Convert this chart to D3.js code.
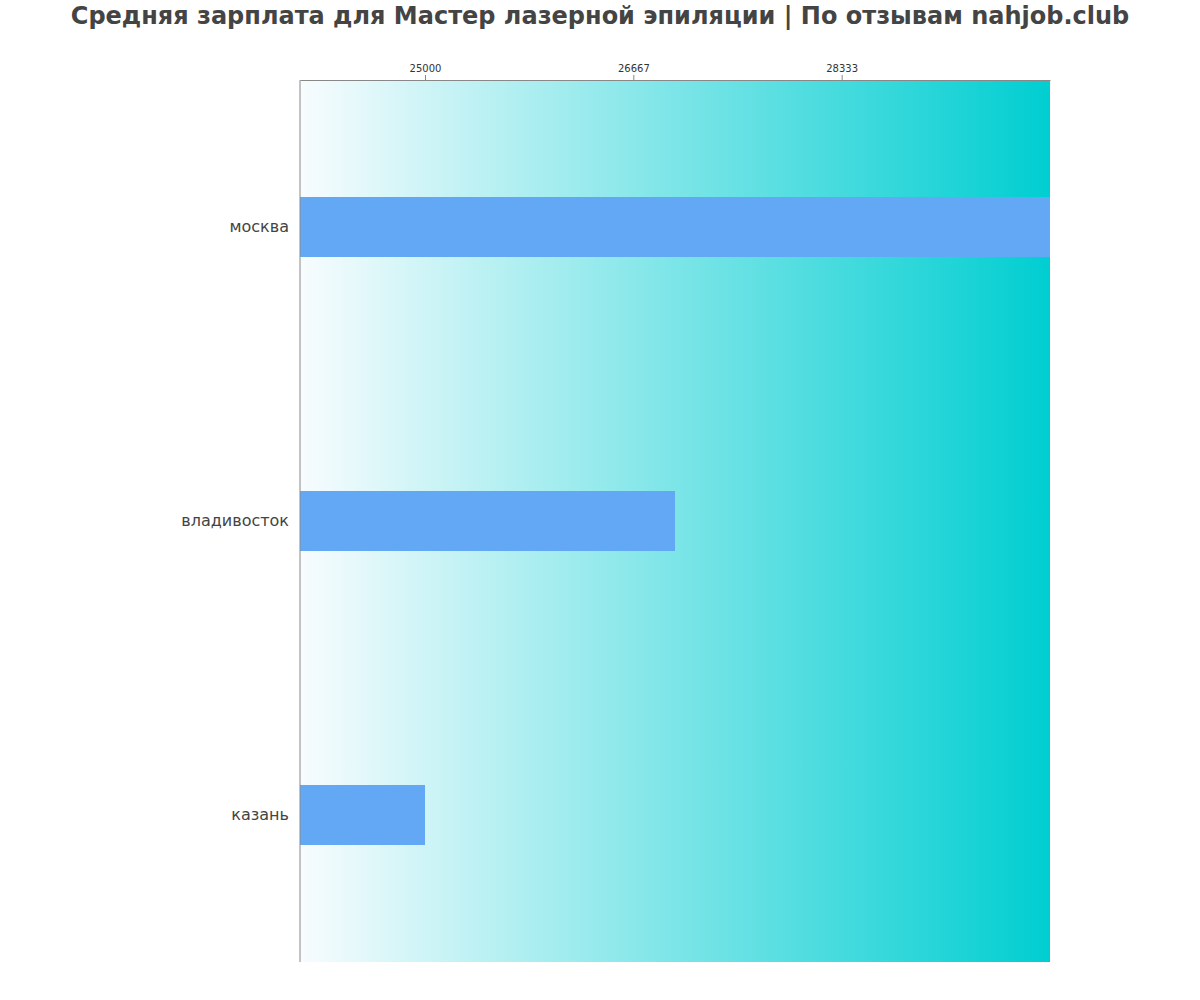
<!DOCTYPE html>
<html>
<head>
<meta charset="utf-8">
<script src="https://cdn.jsdelivr.net/npm/d3@7"></script>
<style>
  html, body { margin: 0; padding: 0; background: #fff; }
  svg { display: block; }
</style>
</head>
<body>
<svg id="chart" width="1200" height="1000"></svg>
<script>
const title = "Средняя зарплата для Мастер лазерной эпиляции | По отзывам nahjob.club";
const categories = ["москва", "владивосток", "казань"];
const salaries = [30000, 27000, 25000];
const tickValues = [25000, 26666.67, 28333.33];
const xDomain = [24000, 30000];

const svg = d3.select("#chart");
const margin = {left: 300, right: 150, top: 80, bottom: 38};
const W = 1200, H = 1000;
const innerW = W - margin.left - margin.right;
const innerH = H - margin.top - margin.bottom;

const defs = svg.append("defs");
const grad = defs.append("linearGradient").attr("id", "bg").attr("x1", "0%").attr("x2", "100%").attr("y1", "0%").attr("y2", "0%");
grad.append("stop").attr("offset", "0%").attr("stop-color", "#f8fcfe");
grad.append("stop").attr("offset", "100%").attr("stop-color", "#00ced1");

svg.append("text")
  .attr("x", W / 2).attr("y", 24)
  .attr("text-anchor", "middle")
  .attr("font-family", "DejaVu Sans")
  .attr("font-weight", "bold")
  .attr("font-size", 24)
  .attr("fill", "#444")
  .text(title);

const g = svg.append("g").attr("transform", `translate(${margin.left},${margin.top})`);

const x = d3.scaleLinear().domain(xDomain).range([0, innerW]);
const y = d3.scalePoint().domain(categories).range([0, innerH]).padding(0.5);

g.append("rect").attr("x", 0).attr("y", 0).attr("width", innerW).attr("height", innerH).attr("fill", "url(#bg)");

const barH = 60;
g.selectAll("rect.bar").data(categories).enter().append("rect")
  .attr("class", "bar")
  .attr("x", x(xDomain[0]))
  .attr("y", d => y(d) - barH / 2)
  .attr("width", (d, i) => x(salaries[i]) - x(xDomain[0]))
  .attr("height", barH)
  .attr("fill", "#62a8f4");

const xAxis = d3.axisTop(x).tickValues(tickValues).tickFormat(d => d3.format("d")(Math.round(d))).tickSize(5).tickSizeOuter(0);
const ax = g.append("g").call(xAxis);
ax.select(".domain").attr("stroke", "#888");
ax.selectAll(".tick line").attr("stroke", "#888");
ax.selectAll(".tick text").attr("font-family", "DejaVu Sans").attr("font-size", 10).attr("fill", "#333");

// left axis line
g.append("line").attr("x1", 0).attr("x2", 0).attr("y1", 0).attr("y2", innerH).attr("stroke", "#888");

g.selectAll("text.cat").data(categories).enter().append("text")
  .attr("class", "cat")
  .attr("x", -11)
  .attr("y", d => y(d))
  .attr("dy", "0.3em")
  .attr("text-anchor", "end")
  .attr("font-family", "DejaVu Sans")
  .attr("font-size", 16)
  .attr("fill", "#444")
  .text(d => d);
</script>
</body>
</html>
